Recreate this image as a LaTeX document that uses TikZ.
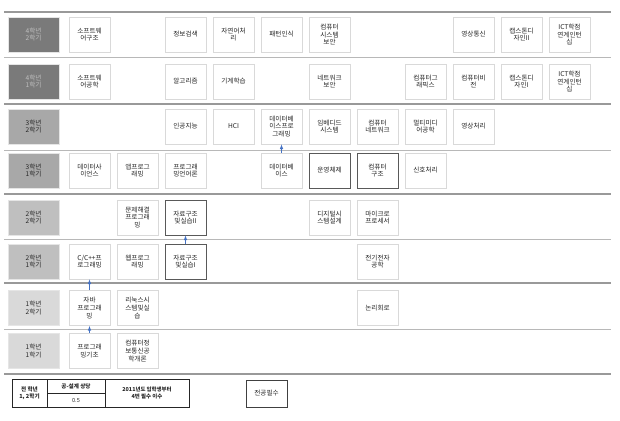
\documentclass[tikz,border=0pt]{standalone}
\usepackage{fontspec}
\setmainfont{Noto Sans CJK KR}
\definecolor{arrowblue}{RGB}{68,114,196}

\begin{document}
\begin{tikzpicture}[x=1pt,y=1pt]
\tikzstyle{every node}+=[inner sep=0pt, align=center, text=black!85, font=\fontsize{6.6}{7.6}\selectfont]
\tikzstyle{course}=[draw=black!15, line width=0.8pt, fill=white, minimum width=41pt, minimum height=35pt]
\tikzstyle{major}=[course, draw=black!65, line width=0.9pt]
\tikzstyle{term}=[draw=black!10, line width=0.5pt, minimum width=51pt, minimum height=35pt]
\tikzstyle{yearline}=[draw=black!40, line width=1.6pt]
\tikzstyle{termline}=[draw=black!28, line width=0.9pt]
\tikzstyle{prereq}=[draw=arrowblue, line width=0.6pt, -latex]
\useasboundingbox (0,0) rectangle (620,-420);
% separators
\draw [yearline] (4,-12) -- (611,-12);
\draw [termline] (4,-57) -- (611,-57);
\draw [yearline] (4,-104) -- (611,-104);
\draw [termline] (4,-150) -- (611,-150);
\draw [yearline] (4,-194) -- (611,-194);
\draw [termline] (4,-239) -- (611,-239);
\draw [yearline] (4,-283) -- (611,-283);
\draw [termline] (4,-329) -- (611,-329);
\draw [yearline] (4,-374) -- (611,-374);
% 4th year, 2nd term
\node [term, fill=black!52, text=black!25] (t42) at (33.5,-34.5) {4학년\\2학기};
\node [course] (swarch) at (89.5,-34.5) {소프트웨\\어구조};
\node [course] (infoir) at (185.5,-34.5) {정보검색};
\node [course] (nlp) at (233.5,-34.5) {자연어처\\리};
\node [course] (pattern) at (281.5,-34.5) {패턴인식};
\node [course] (syssec) at (329.5,-34.5) {컴퓨터\\시스템\\보안};
\node [course] (imgcomm) at (473.5,-34.5) {영상통신};
\node [course] (capstone2) at (521.5,-34.5) {캡스톤디\\자인II};
\node [course] (intern2) at (569.5,-34.5) {ICT학점\\연계인턴\\십};
% 4th year, 1st term
\node [term, fill=black!52, text=black!25] (t41) at (33.5,-81.5) {4학년\\1학기};
\node [course] (sweng) at (89.5,-81.5) {소프트웨\\어공학};
\node [course] (algo) at (185.5,-81.5) {알고리즘};
\node [course] (ml) at (233.5,-81.5) {기계학습};
\node [course] (netsec) at (329.5,-81.5) {네트워크\\보안};
\node [course] (graphics) at (425.5,-81.5) {컴퓨터그\\래픽스};
\node [course] (vision) at (473.5,-81.5) {컴퓨터비\\전};
\node [course] (capstone1) at (521.5,-81.5) {캡스톤디\\자인I};
\node [course] (intern1) at (569.5,-81.5) {ICT학점\\연계인턴\\십};
% 3rd year, 2nd term
\node [term, fill=black!34] (t32) at (33.5,-126.5) {3학년\\2학기};
\node [course] (ai) at (185.5,-126.5) {인공지능};
\node [course] (hci) at (233.5,-126.5) {HCI};
\node [course] (dbprog) at (281.5,-126.5) {데이터베\\이스프로\\그래밍};
\node [course] (embedded) at (329.5,-126.5) {임베디드\\시스템};
\node [course] (network) at (377.5,-126.5) {컴퓨터\\네트워크};
\node [course] (multimedia) at (425.5,-126.5) {멀티미디\\어공학};
\node [course] (imgproc) at (473.5,-126.5) {영상처리};
% 3rd year, 1st term
\node [term, fill=black!34] (t31) at (33.5,-170.5) {3학년\\1학기};
\node [course] (datasci) at (89.5,-170.5) {데이터사\\이언스};
\node [course] (appprog) at (137.5,-170.5) {앱프로그\\래밍};
\node [course] (proglang) at (185.5,-170.5) {프로그래\\밍언어론};
\node [course] (db) at (281.5,-170.5) {데이터베\\이스};
\node [major] (os) at (329.5,-170.5) {운영체제};
\node [major] (arch) at (377.5,-170.5) {컴퓨터\\구조};
\node [course] (signal) at (425.5,-170.5) {신호처리};
% 2nd year, 2nd term
\node [term, fill=black!25] (t22) at (33.5,-217.5) {2학년\\2학기};
\node [course] (solving) at (137.5,-217.5) {문제해결\\프로그래\\밍};
\node [major] (ds2) at (185.5,-217.5) {자료구조\\및실습II};
\node [course] (digital) at (329.5,-217.5) {디지털시\\스템설계};
\node [course] (micro) at (377.5,-217.5) {마이크로\\프로세서};
% 2nd year, 1st term
\node [term, fill=black!25] (t21) at (33.5,-261.5) {2학년\\1학기};
\node [course] (cpp) at (89.5,-261.5) {C/C++프\\로그래밍};
\node [course] (webprog) at (137.5,-261.5) {웹프로그\\래밍};
\node [major] (ds1) at (185.5,-261.5) {자료구조\\및실습I};
\node [course] (electric) at (377.5,-261.5) {전기전자\\공학};
% 1st year, 2nd term
\node [term, fill=black!15] (t12) at (33.5,-308) {1학년\\2학기};
\node [course] (java) at (89.5,-308) {자바\\프로그래\\밍};
\node [course] (linux) at (137.5,-308) {리눅스시\\스템및실\\습};
\node [course] (logic) at (377.5,-308) {논리회로};
% 1st year, 1st term
\node [term, fill=black!15] (t11) at (33.5,-351) {1학년\\1학기};
\node [course] (progbasic) at (89.5,-351) {프로그래\\밍기초};
\node [course] (intro) at (137.5,-351) {컴퓨터정\\보통신공\\학개론};
% prerequisites
\draw [prereq] (db.north) -- (dbprog.south);
\draw [prereq] (ds1.north) -- (ds2.south);
\draw [prereq] (java.north) -- (cpp.south);
\draw [prereq] (progbasic.north) -- (java.south);
% legend
\draw [black!85, line width=0.6pt] (12,-379) rectangle (189,-407);
\draw [black!85, line width=0.6pt] (47,-379) -- (47,-407);
\draw [black!85, line width=0.6pt] (105,-379) -- (105,-407);
\draw [black!85, line width=0.6pt] (47,-393) -- (105,-393);
\node [font=\fontsize{5.6}{6.8}\selectfont\bfseries] (legterm) at (29.5,-393) {전 학년\\1, 2학기};
\node [font=\fontsize{5.6}{6.8}\selectfont\bfseries] (legdesign) at (76,-386) {공-설계 상당};
\node [font=\fontsize{5.6}{6.8}\selectfont] (legvalue) at (76,-400) {0.5};
\node [font=\fontsize{5.4}{6.8}\selectfont\bfseries] (legnote) at (147,-393) {2011년도 입학생부터\\4번 필수 이수};
\node [major, minimum height=27pt, draw=black!75] (legmajor) at (266.5,-393.5) {전공필수};
\end{tikzpicture}
\end{document}
